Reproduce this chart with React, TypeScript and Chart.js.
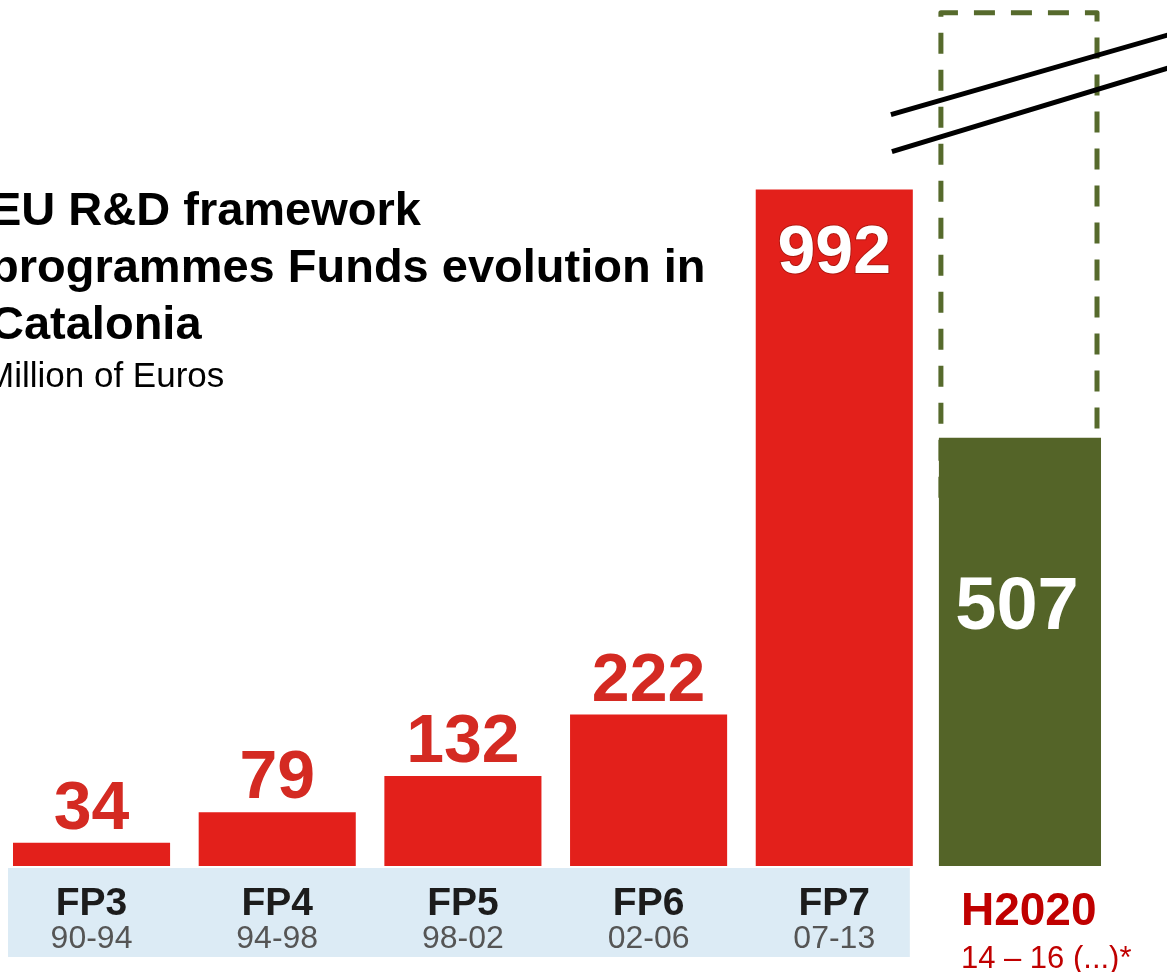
import React, { useEffect, useRef } from "react";
import { Chart, registerables } from "chart.js";

Chart.register(...registerables);

const programmes = ["FP3", "FP4", "FP5", "FP6", "FP7", "H2020"];
const periods = ["90-94", "94-98", "98-02", "02-06", "07-13", "14 – 16 (...)*"];
const fpFunds = [34, 79, 132, 222, 992, null];
const h2020Funds = [null, null, null, null, null, 507];
const h2020Projected = [1010];
const titleLines = ["EU R&D framework", "programmes Funds evolution in", "Catalonia"];
const subtitle = "Million of Euros";

const FONT = '"Liberation Sans", Arial, Helvetica, sans-serif';
const OFFSET = 20; // canvas starts 20px left of the page edge
const CW = 1187;
const CH = 972;

const RED_BAR = "#e3201b";
const RED_TXT = "#d42a22";
const GREEN = "#546428";
const DASH = "#566a2c";
const BAND = "#dcebf5";

const deco = {
  id: "deco",
  beforeDatasetsDraw(chart: any) {
    const ctx = chart.ctx;
    const ca = chart.chartArea;
    const red = chart.getDatasetMeta(0).data;
    const first = red[0].getProps(["x", "width"], true);
    const fifth = red[4].getProps(["x", "width"], true);
    ctx.save();
    ctx.fillStyle = BAND;
    const bl = first.x - first.width / 2 - 5;
    const br = fifth.x + fifth.width / 2 - 3;
    ctx.fillRect(bl, ca.bottom + 2, br - bl, 89);
    ctx.restore();

    const g = chart.getDatasetMeta(1).data[5].getProps(["x", "y", "width"], true);
    const top = chart.scales.y2.getPixelForValue(h2020Projected[0]);
    const left = g.x - g.width / 2 + 2;
    const right = g.x + g.width / 2 - 4;
    ctx.save();
    ctx.strokeStyle = DASH;
    ctx.lineWidth = 5;
    ctx.setLineDash([21, 16]);
    ctx.lineJoin = "round";
    ctx.beginPath();
    ctx.moveTo(left, g.y + 60);
    ctx.lineTo(left, top);
    ctx.lineTo(right, top);
    ctx.lineTo(right, g.y + 2);
    ctx.stroke();
    ctx.restore();
  },
  afterDatasetsDraw(chart: any) {
    const ctx = chart.ctx;
    const ca = chart.chartArea;
    const red = chart.getDatasetMeta(0).data;
    ctx.save();
    ctx.textAlign = "center";
    ctx.textBaseline = "alphabetic";
    for (let i = 0; i < 5; i++) {
      const el = red[i].getProps(["x", "y"], true);
      const txt = String(fpFunds[i]);
      ctx.font = `bold 68px ${FONT}`;
      if (i === 4) {
        ctx.lineWidth = 2;
        ctx.strokeStyle = "#b01810";
        ctx.strokeText(txt, el.x, el.y + 83);
        ctx.fillStyle = "#ffffff";
        ctx.fillText(txt, el.x, el.y + 83);
      } else {
        ctx.fillStyle = RED_TXT;
        ctx.fillText(txt, el.x, el.y - 14);
      }
    }
    const g = chart.getDatasetMeta(1).data[5].getProps(["x", "y", "width"], true);
    ctx.font = `bold 74px ${FONT}`;
    ctx.fillStyle = "#ffffff";
    ctx.fillText(String(h2020Funds[5]), g.x - 3, g.y + 191);

    for (let i = 0; i < 5; i++) {
      const el = red[i].getProps(["x"], true);
      ctx.textAlign = "center";
      ctx.font = `bold 39px ${FONT}`;
      ctx.fillStyle = "#1c1c1c";
      ctx.fillText(programmes[i], el.x, ca.bottom + 49);
      ctx.font = `32px ${FONT}`;
      ctx.fillStyle = "#555555";
      ctx.fillText(periods[i], el.x, ca.bottom + 82);
    }
    ctx.textAlign = "left";
    const gl = g.x - g.width / 2 + 22;
    ctx.font = `bold 46px ${FONT}`;
    ctx.fillStyle = "#c00000";
    ctx.fillText(programmes[5], gl, ca.bottom + 59);
    ctx.font = `31px ${FONT}`;
    ctx.fillText(periods[5], gl, ca.bottom + 102);

    const top = chart.scales.y2.getPixelForValue(h2020Projected[0]);
    const bx = g.x - g.width / 2 + 2;
    ctx.strokeStyle = "#000000";
    ctx.lineWidth = 5;
    ctx.lineCap = "butt";
    ctx.beginPath();
    ctx.moveTo(bx - 50, top + 102);
    ctx.lineTo(chart.width + 2, top + 22);
    ctx.moveTo(bx - 49, top + 139);
    ctx.lineTo(chart.width + 2, top + 55);
    ctx.stroke();

    ctx.fillStyle = "#000000";
    ctx.font = `bold 47px ${FONT}`;
    const tx = OFFSET - 10;
    const bases = [225, 282, 339];
    titleLines.forEach((t, i) => ctx.fillText(t, tx, bases[i]));
    ctx.font = `35px ${FONT}`;
    ctx.fillText(subtitle, OFFSET - 15, 387);
    ctx.restore();
  },
};

export default function App() {
  const ref = useRef<HTMLCanvasElement>(null);
  useEffect(() => {
    if (!ref.current) return;
    const chart = new Chart(ref.current, {
      type: "bar",
      data: {
        labels: programmes,
        datasets: [
          {
            label: "FP funds",
            data: fpFunds as any,
            backgroundColor: RED_BAR,
            yAxisID: "y",
            grouped: false,
            categoryPercentage: 1,
            barPercentage: 0.846,
            borderWidth: 0,
          } as any,
          {
            label: "H2020 funds",
            data: h2020Funds as any,
            backgroundColor: GREEN,
            yAxisID: "y2",
            grouped: false,
            categoryPercentage: 1,
            barPercentage: 0.873,
            borderWidth: 0,
          } as any,
        ],
      },
      options: {
        responsive: false,
        animation: false,
        devicePixelRatio: 1,
        layout: { padding: { left: 18.7, right: 54.2, top: 0, bottom: 106 } },
        plugins: { legend: { display: false }, tooltip: { enabled: false }, title: { display: false } },
        scales: {
          x: { display: false, offset: true, grid: { display: false } },
          y: { display: false, min: 0, max: 1270 },
          y2: { display: false, min: 0, max: 1025 },
        },
      },
      plugins: [deco],
    });
    return () => chart.destroy();
  }, []);
  return (
    <canvas
      ref={ref}
      width={CW}
      height={CH}
      style={{ position: "absolute", left: -OFFSET, top: 0, width: CW, height: CH }}
    />
  );
}
